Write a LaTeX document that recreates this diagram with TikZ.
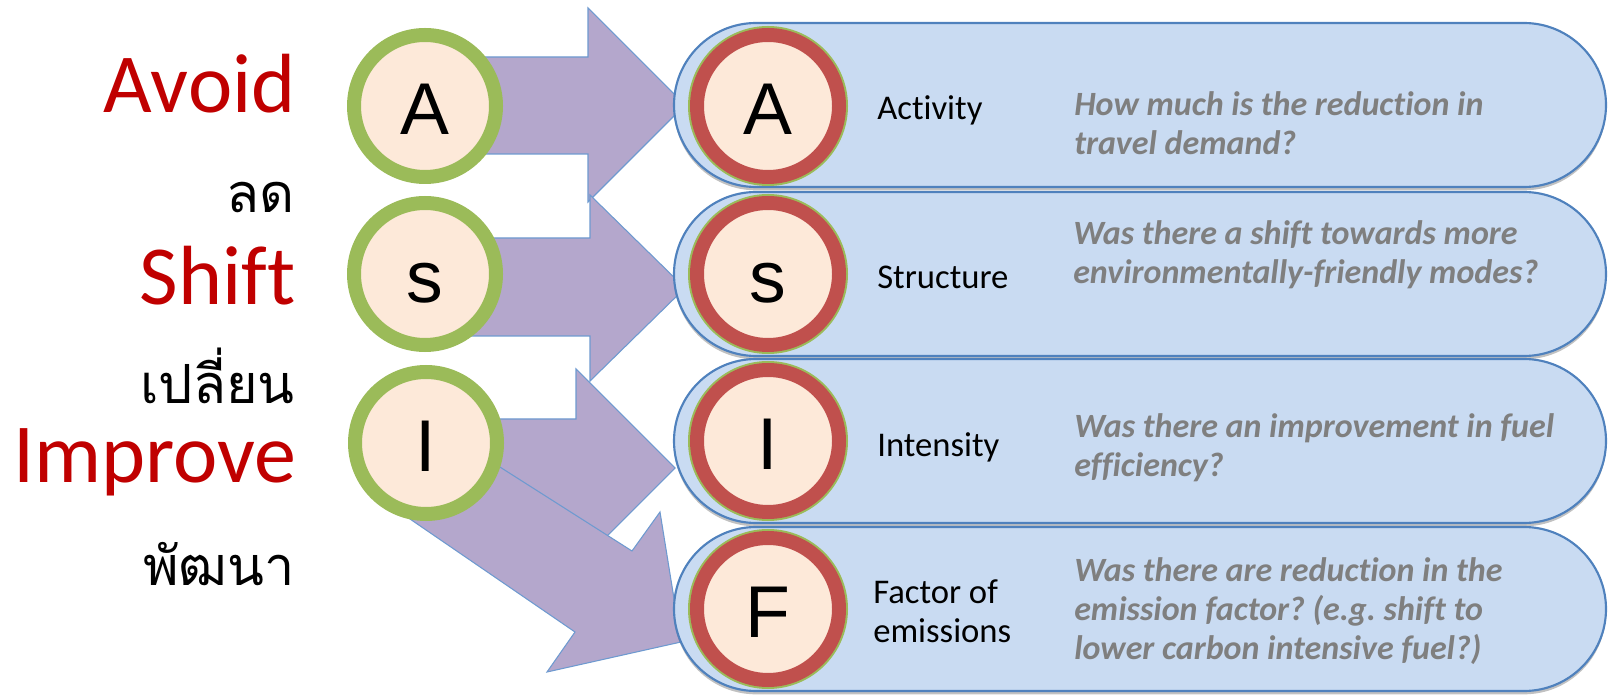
\documentclass[tikz,border=0pt]{standalone}
\usepackage{fontspec}
\setmainfont{Carlito}[Ligatures={TeX,NoCommon}]
\newfontfamily\thaifont[Script=Thai]{Loma}
\newfontfamily\arialfont{Liberation Sans}
\usetikzlibrary{shadows}
\frenchspacing
\definecolor{avred}{HTML}{C00000}
\definecolor{ringgreen}{HTML}{9BBB59}
\definecolor{pale}{HTML}{FDE9D9}
\definecolor{ringred}{HTML}{C0504D}
\definecolor{arrowfill}{HTML}{B4A7CC}
\definecolor{arrowline}{HTML}{6E9AD0}
\definecolor{pillfill}{HTML}{C9DBF2}
\definecolor{pillline}{HTML}{4F81BD}
\definecolor{qgrey}{HTML}{7F7F7F}
\tikzset{
  blockarrow/.style={fill=arrowfill, draw=arrowline, line width=0.8pt, line join=miter},
  pill/.style={fill=pillfill, draw=pillline, line width=1.6pt, rounded corners=61.5pt,
    drop shadow={shadow xshift=0pt, shadow yshift=-2.5pt, opacity=0.35, fill=black!70}},
  lcirc/.style={circle, fill=pale, draw=ringgreen, line width=10.5pt, minimum size=106.5pt,
    inner sep=0pt, text height=43pt, text depth=0pt,
    font=\arialfont\fontsize{55}{55}\selectfont},
  rcirc/.style={lcirc, draw=ringred, preaction={draw=ringgreen, line width=13.5pt}},
  bigword/.style={anchor=base east, text=avred, font=\fontsize{63}{63}\selectfont, inner sep=0pt},
  thaiword/.style={anchor=base east, text depth=0pt, font=\thaifont\fontsize{40.5}{40.5}\selectfont, inner sep=0pt},
  label/.style={anchor=west, align=left, inner sep=0pt, font=\fontsize{26}{29.5}\selectfont},
  question/.style={anchor=west, align=left, inner sep=0pt, text=qgrey,
    font=\frenchspacing\bfseries\itshape\fontsize{25.5}{29.5}\selectfont},
}
\begin{document}
\begin{tikzpicture}[x=0.75pt, y=-0.75pt]
\useasboundingbox (0,0) rectangle (1614,698);

% block arrows
\draw[blockarrow] (430,57) -- (588,57) -- (588,8) -- (685,105) -- (588,202) -- (588,154) -- (430,154) -- cycle;
\draw[blockarrow] (430,238) -- (590,238) -- (590,195) -- (685,288) -- (590,381) -- (590,336) -- (430,336) -- cycle;
\draw[blockarrow] (440,419) -- (576,419) -- (576,369) -- (675,468) -- (576,567) -- (576,517) -- (440,517) -- cycle;
\draw[blockarrow] (470,448) -- (632,551) -- (660,512) -- (681,642) -- (547,672) -- (575,632) -- (410,519) -- cycle;

% pills
\draw[pill] (674,23) rectangle (1606,187);
\node[rcirc] (rA) at (768,106) {A};
\draw[pill] (674,192) rectangle (1606,356);
\node[rcirc] (rS) at (768,274) {s};
\draw[pill] (674,359) rectangle (1606,523);
\node[rcirc] (rI) at (768,441) {I};
\draw[pill] (674,527) rectangle (1606,691);
\node[rcirc] (rF) at (768,609) {F};

% left circles
\node[lcirc] (lA) at (425,106) {A};
\node[lcirc] (lS) at (425,274) {s};
\node[lcirc] (lI) at (426,443) {I};

% left words
\node[bigword] (wAvoid) at (296,113) {Avoid};
\node[thaiword] (tAvoid) at (295,213) {ลด};
\node[bigword] (wShift) at (296,305) {Shift};
\node[thaiword] (tShift) at (295,404) {เปลี่ยน};
\node[bigword] (wImprove) at (297,483) {Improve};
\node[thaiword] (tImprove) at (295,585) {พัฒนา};

% labels
\node[label] (labA) at (877,110) {Activity};
\node[label] (labS) at (877,277) {Structure};
\node[label] (labI) at (877,447) {Intensity};
\node[label] (labF) at (873,611) {Factor of\\emissions};

% questions
\node[question] (qA) at (1074,123) {How much is the reduction in\\travel demand?};
\node[question] (qS) at (1073,255) {Was there a shift towards more\\environmentally-friendly modes?};
\node[question] (qI) at (1074,448) {Was there an improvement in fuel\\efficiency?};
\node[question] (qF) at (1074,611) {Was there are reduction in the\\emission factor? (e.g. shift to\\lower carbon intensive fuel?)};
\end{tikzpicture}
\end{document}
